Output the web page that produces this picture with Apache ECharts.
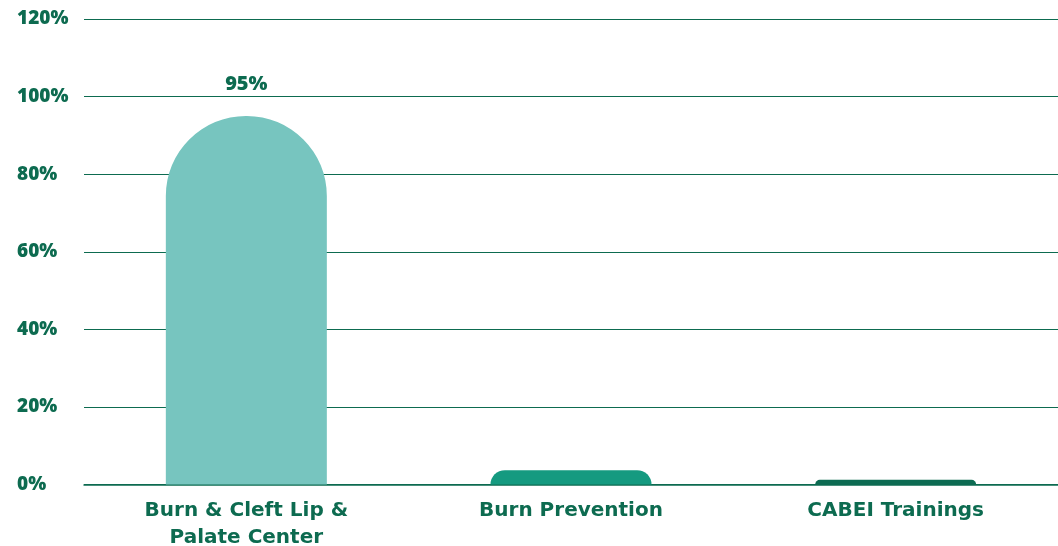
<!DOCTYPE html>
<html>
<head>
<meta charset="utf-8">
<script src="https://cdn.jsdelivr.net/npm/echarts@6/dist/echarts.min.js"></script>
<style>
html,body{margin:0;padding:0;background:#fff;}
#chart{width:1058px;height:546px;}
</style>
</head>
<body>
<div id="chart"></div>
<script>
var categories = ['Burn & Cleft Lip &\nPalate Center', 'Burn Prevention', 'CABEI Trainings'];
var values = [95, 3.7, 1.2];
var barColors = ['#77c5bf', '#159a80', '#0c6b52'];
var shownLabels = [true, false, false];
var yTicks = [0, 20, 40, 60, 80, 100, 120];

var textColor = '#0d6b50';
var tickFont = '"Open Sans", Lato, sans-serif';
var catFont = '"DejaVu Sans", sans-serif';

var chart = echarts.init(document.getElementById('chart'));
chart.setOption({
  animation: false,
  grid: {left: 84, right: 0, top: 19, bottom: 61.5, containLabel: false, outerBoundsMode: 'none'},
  xAxis: {
    type: 'category',
    data: categories,
    axisTick: {show: false},
    axisLine: {show: true, lineStyle: {color: '#0d6b50', width: 1.5}},
    axisLabel: {
      color: textColor, fontFamily: catFont, fontWeight: 'bold', fontSize: 20,
      lineHeight: 27, margin: 13, interval: 0
    }
  },
  yAxis: {
    type: 'value',
    min: yTicks[0], max: yTicks[yTicks.length - 1], interval: 20,
    axisLine: {show: false},
    axisTick: {show: false},
    splitLine: {lineStyle: {color: '#0d6b50', width: 1.2}},
    axisLabel: {
      color: textColor, fontFamily: tickFont, fontWeight: 800, fontSize: 19,
      align: 'left', margin: 67,
      formatter: function (v) { return v + '%'; }
    }
  },
  series: [{
    type: 'bar',
    barWidth: 161,
    data: values.map(function (v, i) {
      return {
        value: v,
        itemStyle: {color: barColors[i], borderRadius: [80, 80, 0, 0]},
        label: {show: shownLabels[i]}
      };
    }),
    label: {
      position: 'top', distance: 22,
      color: textColor, fontFamily: tickFont, fontWeight: 800, fontSize: 20,
      formatter: function (p) { return p.value + '%'; }
    }
  }]
});
</script>
</body>
</html>
